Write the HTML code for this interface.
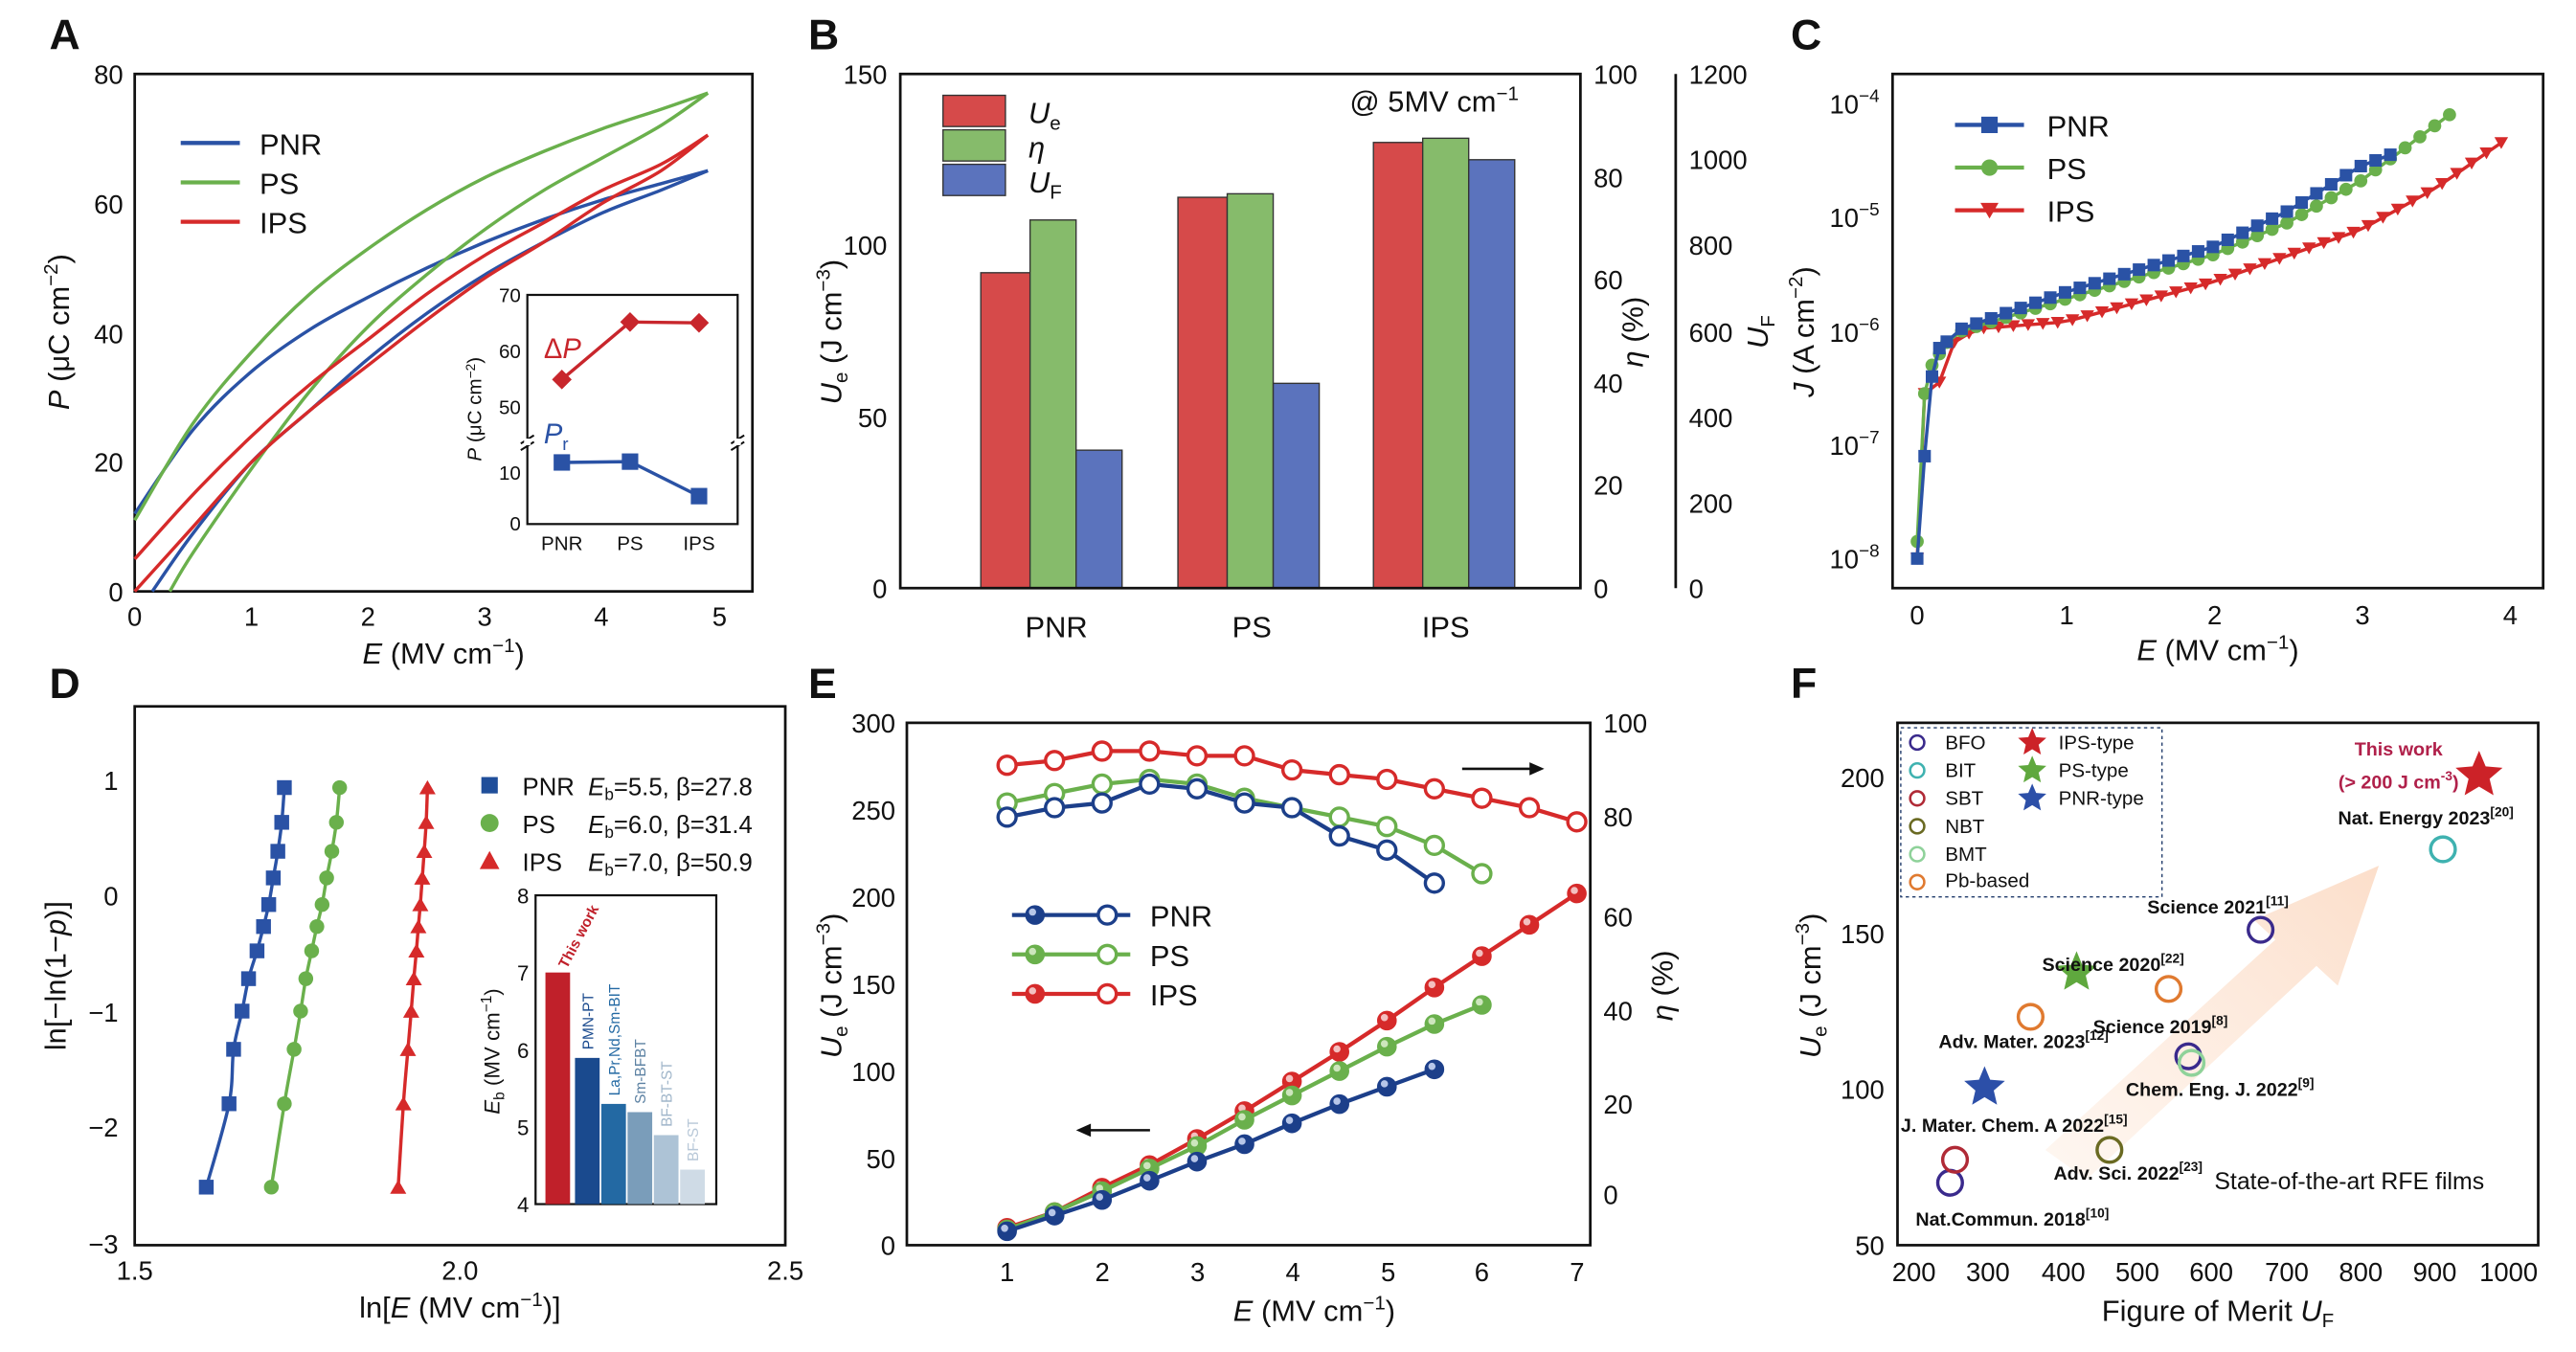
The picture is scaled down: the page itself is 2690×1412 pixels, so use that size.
<!DOCTYPE html>
<html><head><meta charset="utf-8"><style>
html,body{margin:0;padding:0;background:#fff}
svg{display:block}
text{font-family:"Liberation Sans",Arial,sans-serif;fill:#111}
.t{font-size:16px}
.l{font-size:18px}
.p{font-size:26px;font-weight:bold}
.ax{stroke:#111;stroke-width:1.6;fill:none}
</style></head><body>
<svg id="s" width="2690" height="1412" viewBox="0 0 1568 823" xmlns="http://www.w3.org/2000/svg">
<defs>
<linearGradient id="ag" x1="0" y1="1" x2="1" y2="0"><stop offset="0" stop-color="#fde3d0" stop-opacity="0.3"/><stop offset="1" stop-color="#fbd6bd" stop-opacity="0.8"/></linearGradient>
</defs>
<!-- ===== Panel A ===== -->
<text class="p" x="30" y="30">A</text>
<rect class="ax" x="82" y="45" width="376" height="315"/>
<g id="gA"></g>
<g class="t" text-anchor="end">
<text x="75" y="366">0</text><text x="75" y="287">20</text><text x="75" y="209">40</text><text x="75" y="130">60</text><text x="75" y="51">80</text></g>
<g class="t" text-anchor="middle">
<text x="82" y="381">0</text><text x="153" y="381">1</text><text x="224" y="381">2</text><text x="295" y="381">3</text><text x="366" y="381">4</text><text x="438" y="381">5</text></g>
<text class="l" x="270" y="404" text-anchor="middle"><tspan font-style="italic">E</tspan> (MV cm<tspan dy="-7" font-size="12">−1</tspan><tspan dy="7">)</tspan></text>
<text class="l" transform="translate(42,202) rotate(-90)" text-anchor="middle"><tspan font-style="italic">P</tspan> (μC cm<tspan dy="-7" font-size="12">−2</tspan><tspan dy="7">)</tspan></text>
<line x1="110" y1="87" x2="146" y2="87" stroke="#2a52a5" stroke-width="2.5"/>
<line x1="110" y1="111" x2="146" y2="111" stroke="#6ab04c" stroke-width="2.5"/>
<line x1="110" y1="135" x2="146" y2="135" stroke="#d62a2a" stroke-width="2.5"/>
<text class="l" x="158" y="94">PNR</text><text class="l" x="158" y="118">PS</text><text class="l" x="158" y="142">IPS</text>
<!-- inset A -->
<rect x="321" y="179.5" width="128" height="139.5" fill="#fff" stroke="#111" stroke-width="1.3"/>
<path d="M317 270 l8 -5 M317 274 l8 -5 M445 270 l8 -5 M445 274 l8 -5" stroke="#111" stroke-width="1.2"/>
<rect x="319" y="267" width="4" height="4" fill="#fff"/><rect x="447" y="267" width="4" height="4" fill="#fff"/>
<polyline points="342,231 383.5,196 425.5,196.5" fill="none" stroke="#c8262c" stroke-width="2"/>
<path d="M342 225 l6 6 -6 6 -6 -6z M383.5 190 l6 6 -6 6 -6 -6z M425.5 190.5 l6 6 -6 6 -6 -6z" fill="#c8262c"/>
<polyline points="342,281.5 383.5,281 425.5,302" fill="none" stroke="#2a52a5" stroke-width="2"/>
<rect x="337" y="276.5" width="10" height="10" fill="#2a52a5"/><rect x="378.5" y="276" width="10" height="10" fill="#2a52a5"/><rect x="420.5" y="297" width="10" height="10" fill="#2a52a5"/>
<g font-size="12" text-anchor="end"><text x="317" y="184">70</text><text x="317" y="218">60</text><text x="317" y="252">50</text><text x="317" y="292">10</text><text x="317" y="323">0</text></g>
<g font-size="12" text-anchor="middle"><text x="342" y="335">PNR</text><text x="383.5" y="335">PS</text><text x="425.5" y="335">IPS</text></g>
<text font-size="12" transform="translate(293,249) rotate(-90)" text-anchor="middle"><tspan font-style="italic">P</tspan> (μC cm<tspan dy="-4" font-size="8">−2</tspan><tspan dy="4">)</tspan></text>
<text x="331" y="218" font-size="17" style="fill:#c8262c">Δ<tspan font-style="italic">P</tspan></text>
<text x="331" y="270" font-size="17" style="fill:#2a52a5" font-style="italic">P<tspan font-size="11" font-style="normal" dy="4">r</tspan></text>

<!-- ===== Panel B ===== -->
<text class="p" x="492" y="30">B</text>
<g id="gB"></g>
<rect class="ax" x="548" y="45" width="414" height="313"/>
<line class="ax" x1="1020" y1="45" x2="1020" y2="358"/>
<g class="t" text-anchor="end"><text x="540" y="364">0</text><text x="540" y="260">50</text><text x="540" y="155">100</text><text x="540" y="51">150</text></g>
<g class="t"><text x="970" y="364">0</text><text x="970" y="301">20</text><text x="970" y="239">40</text><text x="970" y="176">60</text><text x="970" y="114">80</text><text x="970" y="51">100</text>
<text x="1028" y="364">0</text><text x="1028" y="312">200</text><text x="1028" y="260">400</text><text x="1028" y="208">600</text><text x="1028" y="155">800</text><text x="1028" y="103">1000</text><text x="1028" y="51">1200</text></g>
<g class="l" text-anchor="middle"><text x="643" y="388">PNR</text><text x="762" y="388">PS</text><text x="880" y="388">IPS</text></g>
<text class="l" transform="translate(512,202) rotate(-90)" text-anchor="middle"><tspan font-style="italic">U</tspan><tspan font-size="12" dy="4">e</tspan><tspan dy="-4"> (J cm</tspan><tspan dy="-7" font-size="12">−3</tspan><tspan dy="7">)</tspan></text>
<text class="l" transform="translate(1000,202) rotate(-90)" text-anchor="middle"><tspan font-style="italic">η</tspan> (%)</text>
<text class="l" transform="translate(1076,202) rotate(-90)" text-anchor="middle" font-style="italic">U<tspan font-size="12" dy="4" font-style="normal">F</tspan></text>
<rect x="574" y="58" width="38" height="19" fill="#d64a4a" stroke="#333" stroke-width="0.8"/>
<rect x="574" y="79" width="38" height="19" fill="#86bb6b" stroke="#333" stroke-width="0.8"/>
<rect x="574" y="100" width="38" height="19" fill="#5b73bd" stroke="#333" stroke-width="0.8"/>
<text class="l" x="626" y="75" font-style="italic">U<tspan font-size="12" dy="4" font-style="normal">e</tspan></text>
<text class="l" x="626" y="96" font-style="italic">η</text>
<text class="l" x="626" y="117" font-style="italic">U<tspan font-size="12" dy="4" font-style="normal">F</tspan></text>
<text class="l" x="873" y="68" text-anchor="middle">@ 5MV cm<tspan dy="-7" font-size="12">−1</tspan></text>

<!-- ===== Panel C ===== -->
<text class="p" x="1090" y="30">C</text>
<rect class="ax" x="1152" y="45" width="396" height="313"/>
<g id="gC"></g>
<g class="t" text-anchor="end">
<text x="1144" y="346">10<tspan dy="-7" font-size="11">−8</tspan></text>
<text x="1144" y="277">10<tspan dy="-7" font-size="11">−7</tspan></text>
<text x="1144" y="208">10<tspan dy="-7" font-size="11">−6</tspan></text>
<text x="1144" y="138">10<tspan dy="-7" font-size="11">−5</tspan></text>
<text x="1144" y="69">10<tspan dy="-7" font-size="11">−4</tspan></text></g>
<g class="t" text-anchor="middle"><text x="1167" y="380">0</text><text x="1258" y="380">1</text><text x="1348" y="380">2</text><text x="1438" y="380">3</text><text x="1528" y="380">4</text></g>
<text class="l" x="1350" y="402" text-anchor="middle"><tspan font-style="italic">E</tspan> (MV cm<tspan dy="-7" font-size="12">−1</tspan><tspan dy="7">)</tspan></text>
<text class="l" transform="translate(1104,202) rotate(-90)" text-anchor="middle"><tspan font-style="italic">J</tspan> (A cm<tspan dy="-7" font-size="12">−2</tspan><tspan dy="7">)</tspan></text>
<g id="gCleg"></g>
<text class="l" x="1246" y="83">PNR</text><text class="l" x="1246" y="109">PS</text><text class="l" x="1246" y="135">IPS</text>

<!-- ===== Panel D ===== -->
<text class="p" x="30" y="425">D</text>
<rect class="ax" x="82" y="430" width="396" height="328"/>
<g id="gD"></g>
<g class="t" text-anchor="end"><text x="72" y="481">1</text><text x="72" y="551">0</text><text x="72" y="622">−1</text><text x="72" y="692">−2</text><text x="72" y="763">−3</text></g>
<g class="t" text-anchor="middle"><text x="82" y="779">1.5</text><text x="280" y="779">2.0</text><text x="478" y="779">2.5</text></g>
<text class="l" x="280" y="802" text-anchor="middle">ln[<tspan font-style="italic">E</tspan> (MV cm<tspan dy="-7" font-size="12">−1</tspan><tspan dy="7">)]</tspan></text>
<text class="l" transform="translate(40,594) rotate(-90)" text-anchor="middle">ln[−ln(1−<tspan font-style="italic">p</tspan>)]</text>
<rect x="293" y="473" width="10" height="10" fill="#1f4e9a"/>
<circle cx="298" cy="501" r="5.5" fill="#6ab04c"/>
<path d="M298 518 l6 11 h-12z" fill="#d62a2a"/>
<g font-size="15"><text x="318" y="484">PNR</text><text x="318" y="507">PS</text><text x="318" y="530">IPS</text>
<text x="358" y="484"><tspan font-style="italic">E</tspan><tspan font-size="10" dy="3">b</tspan><tspan dy="-3">=5.5, β=27.8</tspan></text>
<text x="358" y="507"><tspan font-style="italic">E</tspan><tspan font-size="10" dy="3">b</tspan><tspan dy="-3">=6.0, β=31.4</tspan></text>
<text x="358" y="530"><tspan font-style="italic">E</tspan><tspan font-size="10" dy="3">b</tspan><tspan dy="-3">=7.0, β=50.9</tspan></text></g>
<!-- inset D -->
<rect x="326" y="545" width="110" height="188" fill="#fff" stroke="#111" stroke-width="1.3"/>
<rect x="332" y="592" width="15" height="141" fill="#c0202a"/>
<rect x="350" y="644" width="15" height="89" fill="#1a4a8e"/>
<rect x="366" y="672" width="15" height="61" fill="#2369a3"/>
<rect x="382" y="677" width="15" height="56" fill="#7a9dba"/>
<rect x="398" y="691" width="15" height="42" fill="#adc3d6"/>
<rect x="414" y="712" width="15" height="21" fill="#cfdbe6"/>
<g font-size="9">
<text transform="translate(345,590) rotate(-62)" style="fill:#c0202a;font-weight:bold">This work</text>
<text transform="translate(361,639) rotate(-90)" style="fill:#1a4a8e">PMN-PT</text>
<text transform="translate(377,667) rotate(-90)" style="fill:#2369a3">La,Pr,Nd,Sm-BIT</text>
<text transform="translate(393,672) rotate(-90)" style="fill:#5d82a3">Sm-BFBT</text>
<text transform="translate(409,686) rotate(-90)" style="fill:#a0b6ca">BF-BT-ST</text>
<text transform="translate(425,707) rotate(-90)" style="fill:#b8c8d8">BF-ST</text></g>
<g font-size="13" text-anchor="end"><text x="322" y="550">8</text><text x="322" y="597">7</text><text x="322" y="644">6</text><text x="322" y="691">5</text><text x="322" y="738">4</text></g>
<text font-size="13" transform="translate(304,640) rotate(-90)" text-anchor="middle"><tspan font-style="italic">E</tspan><tspan font-size="9" dy="3">b</tspan><tspan dy="-3"> (MV cm</tspan><tspan dy="-5" font-size="9">−1</tspan><tspan dy="5">)</tspan></text>

<!-- ===== Panel E ===== -->
<text class="p" x="492" y="425">E</text>
<rect class="ax" x="552" y="440" width="416" height="318"/>
<g id="gE"></g>
<g class="t" text-anchor="end"><text x="545" y="764">0</text><text x="545" y="711">50</text><text x="545" y="658">100</text><text x="545" y="605">150</text><text x="545" y="552">200</text><text x="545" y="499">250</text><text x="545" y="446">300</text></g>
<g class="t"><text x="976" y="733">0</text><text x="976" y="678">20</text><text x="976" y="621">40</text><text x="976" y="564">60</text><text x="976" y="503">80</text><text x="976" y="446">100</text></g>
<g class="t" text-anchor="middle"><text x="613" y="780">1</text><text x="671" y="780">2</text><text x="729" y="780">3</text><text x="787" y="780">4</text><text x="845" y="780">5</text><text x="902" y="780">6</text><text x="960" y="780">7</text></g>
<text class="l" x="800" y="804" text-anchor="middle"><tspan font-style="italic">E</tspan> (MV cm<tspan dy="-7" font-size="12">−1</tspan><tspan dy="7">)</tspan></text>
<text class="l" transform="translate(512,600) rotate(-90)" text-anchor="middle"><tspan font-style="italic">U</tspan><tspan font-size="12" dy="4">e</tspan><tspan dy="-4"> (J cm</tspan><tspan dy="-7" font-size="12">−3</tspan><tspan dy="7">)</tspan></text>
<text class="l" transform="translate(1018,600) rotate(-90)" text-anchor="middle"><tspan font-style="italic">η</tspan> (%)</text>
<g id="gEleg"></g>
<text class="l" x="700" y="564">PNR</text><text class="l" x="700" y="588">PS</text><text class="l" x="700" y="612">IPS</text>
<line x1="890" y1="468" x2="935" y2="468" stroke="#111" stroke-width="1.5"/><path d="M940 468 l-9 -4 v8z" fill="#111"/>
<line x1="660" y1="688" x2="700" y2="688" stroke="#111" stroke-width="1.5"/><path d="M655 688 l9 -4 v8z" fill="#111"/>

<!-- ===== Panel F ===== -->
<text class="p" x="1090" y="425">F</text>
<rect class="ax" x="1155" y="440" width="390" height="318"/>
<path d="M1245 700 L1385 572 L1372 560 L1448 527 L1423 600 L1410 588 L1270 718 Z" fill="url(#ag)"/>
<g id="gF"></g>
<g class="t" text-anchor="end"><text x="1147" y="764">50</text><text x="1147" y="669">100</text><text x="1147" y="574">150</text><text x="1147" y="479">200</text></g>
<g class="t" text-anchor="middle"><text x="1165" y="780">200</text><text x="1210" y="780">300</text><text x="1256" y="780">400</text><text x="1301" y="780">500</text><text x="1346" y="780">600</text><text x="1392" y="780">700</text><text x="1437" y="780">800</text><text x="1482" y="780">900</text><text x="1527" y="780">1000</text></g>
<text class="l" x="1350" y="804" text-anchor="middle">Figure of Merit <tspan font-style="italic">U</tspan><tspan font-size="12" dy="4">F</tspan></text>
<text class="l" transform="translate(1108,600) rotate(-90)" text-anchor="middle"><tspan font-style="italic">U</tspan><tspan font-size="12" dy="4">e</tspan><tspan dy="-4"> (J cm</tspan><tspan dy="-7" font-size="12">−3</tspan><tspan dy="7">)</tspan></text>
<rect x="1157" y="443" width="159" height="103" fill="none" stroke="#1f3a6a" stroke-width="0.8" stroke-dasharray="2,2"/>
<g font-size="12"><text x="1184" y="456">BFO</text><text x="1184" y="473">BIT</text><text x="1184" y="490">SBT</text><text x="1184" y="507">NBT</text><text x="1184" y="524">BMT</text><text x="1184" y="540">Pb-based</text>
<text x="1253" y="456">IPS-type</text><text x="1253" y="473">PS-type</text><text x="1253" y="490">PNR-type</text></g>
<g font-size="11.5" font-weight="bold">
<text x="1530" y="502" text-anchor="end">Nat. Energy 2023<tspan font-size="8" dy="-5">[20]</tspan></text>
<text x="1307" y="556">Science 2021<tspan font-size="8" dy="-5">[11]</tspan></text>
<text x="1243" y="591">Science 2020<tspan font-size="8" dy="-5">[22]</tspan></text>
<text x="1274" y="629">Science 2019<tspan font-size="8" dy="-5">[8]</tspan></text>
<text x="1180" y="638">Adv. Mater. 2023<tspan font-size="8" dy="-5">[12]</tspan></text>
<text x="1294" y="667">Chem. Eng. J. 2022<tspan font-size="8" dy="-5">[9]</tspan></text>
<text x="1157" y="689">J. Mater. Chem. A 2022<tspan font-size="8" dy="-5">[15]</tspan></text>
<text x="1250" y="718">Adv. Sci. 2022<tspan font-size="8" dy="-5">[23]</tspan></text>
<text x="1166" y="746">Nat.Commun. 2018<tspan font-size="8" dy="-5">[10]</tspan></text>
<text x="1460" y="460" text-anchor="middle" style="fill:#b0204a">This work</text>
<text x="1460" y="480" text-anchor="middle" style="fill:#b0204a">(&gt; 200 J cm<tspan font-size="8" dy="-5">-3</tspan><tspan dy="5">)</tspan></text></g>
<text x="1430" y="724" text-anchor="middle" font-size="14.5">State-of-the-art RFE films</text>
</svg>
<script>
const NS="http://www.w3.org/2000/svg";
function el(g,tag,a){const e=document.createElementNS(NS,tag);for(const k in a)e.setAttribute(k,a[k]);document.getElementById(g).appendChild(e);return e;}
function line(g,pts,c,w,extra){el(g,"polyline",Object.assign({points:pts.map(p=>p[0].toFixed(1)+","+p[1].toFixed(1)).join(" "),fill:"none",stroke:c,"stroke-width":w||2},extra||{}));}
function smooth(g,pts,c,w){let d="M"+pts[0][0]+" "+pts[0][1];for(let i=0;i<pts.length-1;i++){const p0=pts[Math.max(i-1,0)],p1=pts[i],p2=pts[i+1],p3=pts[Math.min(i+2,pts.length-1)];d+=` C${p1[0]+(p2[0]-p0[0])/6} ${p1[1]+(p2[1]-p0[1])/6} ${p2[0]-(p3[0]-p1[0])/6} ${p2[1]-(p3[1]-p1[1])/6} ${p2[0]} ${p2[1]}`;}el(g,"path",{d:d,fill:"none",stroke:c,"stroke-width":w||2});}
const B="#2a52a5",G="#6ab04c",R="#d62a2a";
// Panel A
const ax=e=>82+e*71.2, ay=p=>360-p*3.94;
const A={
 b:[[[0,12],[.5,25],[1,34],[1.5,40.5],[2,45.5],[2.5,50],[3,54],[3.5,57.5],[4,60.5],[4.5,63],[4.9,65]],[[0.15,0],[.5,9],[1,20],[1.5,28],[2,36],[2.5,43],[3,49],[3.5,54],[4,58.5],[4.5,62],[4.9,65]]],
 g:[[[0,11],[.5,26],[1,37],[1.5,46],[2,53],[2.5,59],[3,64],[3.5,68],[4,71.5],[4.5,74.5],[4.9,77]],[[0.3,0],[.5,6],[1,19],[1.5,31],[2,41],[2.5,49],[3,56],[3.5,62],[4,67],[4.5,72],[4.9,77]]],
 r:[[[0,5],[.5,15],[1,24],[1.5,32],[2,39],[2.5,46],[3,52],[3.5,57],[4,62],[4.5,66],[4.9,70.5]],[[0,0],[.5,10],[1,20],[1.5,28],[2,35],[2.5,42],[3,48.5],[3.5,54],[4,60],[4.5,65],[4.9,70.5]]]};
[["b",B],["g",G],["r",R]].forEach(([k,c])=>A[k].forEach(s=>smooth("gA",s.map(p=>[ax(p[0]),ay(p[1])]),c,2)));
// Panel B bars
const by=v=>358-v*2.087, ey=v=>358-v*3.13, uy=v=>358-v*0.2608;
[[597,92,71.6,322],[717,114,76.7,478],[836,130,87.5,1000]].forEach(([x,u,n,f])=>{
 el("gB","rect",{x:x,y:by(u),width:30,height:358-by(u),fill:"#d64a4a",stroke:"#333","stroke-width":.8});
 el("gB","rect",{x:x+30,y:ey(n),width:28,height:358-ey(n),fill:"#86bb6b",stroke:"#333","stroke-width":.8});
 el("gB","rect",{x:x+58,y:uy(f),width:28,height:358-uy(f),fill:"#5b73bd",stroke:"#333","stroke-width":.8});});
// Panel C
const cx=e=>1167+e*90, cy=l=>340-(l+8)*69.25;
function interp(keys,xs){return xs.map(x=>{for(let i=0;i<keys.length-1;i++){if(x<=keys[i+1][0]){const t=(x-keys[i][0])/(keys[i+1][0]-keys[i][0]);return [x,keys[i][1]+t*(keys[i+1][1]-keys[i][1])];}}return keys[keys.length-1];});}
function range(a,b,s){const r=[];for(let x=a;x<=b+1e-9;x+=s)r.push(+x.toFixed(3));return r;}
const cP=interp([[0,-8],[0.05,-7.1],[0.1,-6.4],[0.15,-6.15],[0.3,-5.98],[1,-5.66],[2,-5.26],[2.5,-4.95],[3,-4.55],[3.2,-4.45]],[0,0.05,0.1,0.15,0.2,...range(0.3,3.2,0.1)]);
const cS=interp([[0,-7.85],[0.05,-6.55],[0.1,-6.3],[0.2,-6.1],[0.3,-6.0],[1,-5.72],[2,-5.33],[2.5,-5.05],[3,-4.68],[3.65,-4.05]],[0,0.05,0.1,0.15,0.2,...range(0.3,3.65,0.1)]);
const cI=interp([[0,-8],[0.05,-6.55],[0.15,-6.45],[0.25,-6.1],[0.4,-5.98],[1,-5.92],[2,-5.57],[3,-5.11],[3.5,-4.75],[4,-4.3]],[0,0.05,0.15,0.25,...range(0.35,4,0.1)]);
function mk(g,x,y,type,c,s){s=s||4.5;if(type=="s")el(g,"rect",{x:x-s,y:y-s,width:2*s,height:2*s,fill:c});else if(type=="c")el(g,"circle",{cx:x,cy:y,r:s,fill:c});else if(type=="u")el(g,"path",{d:`M${x} ${y-s} l${s*1.1} ${s*1.9} h${-s*2.2}z`,fill:c});else el(g,"path",{d:`M${x} ${y+s} l${s*1.1} ${-s*1.9} h${-s*2.2}z`,fill:c});}
[[cI,R,"t"],[cS,G,"c"],[cP,B,"s"]].forEach(([d,c,t])=>{const pts=d.map(p=>[cx(p[0]),cy(p[1])]);line("gC",pts,c,2);pts.forEach(p=>mk("gC",p[0],p[1],t,c,t=="c"?4:3.8));});
[[76,B,"s"],[102,G,"c"],[128,R,"t"]].forEach(([y,c,t])=>{line("gCleg",[[1190,y],[1232,y]],c,2.5);mk("gCleg",1211,y,t,c,5);});
// Panel D
const dx=v=>82+(v-1.5)*396, dy=v=>545-v*70.5;
const ys=[-2.52,-1.8,-1.33,-1.0,-0.72,-0.48,-0.27,-0.08,0.15,0.38,0.63,0.93];
const DX={b:[1.61,1.645,1.652,1.665,1.675,1.688,1.698,1.706,1.713,1.72,1.726,1.73],g:[1.71,1.73,1.745,1.755,1.763,1.772,1.78,1.788,1.795,1.803,1.81,1.815],r:[1.905,1.913,1.92,1.925,1.929,1.933,1.936,1.939,1.942,1.945,1.948,1.95]};
[["b",B,"s"],["g",G,"c"],["r",R,"u"]].forEach(([k,c,t])=>{const pts=DX[k].map((x,i)=>[dx(x),dy(ys[i])]);smooth("gD",pts,c,2);pts.forEach(p=>mk("gD",p[0],p[1],t,c,4.5));});
// Panel E
const exx=v=>613+(v-1)*57.8, eu=v=>758-v*1.06, en=v=>727-v*2.87;
const EU={b:[8,17,26,37,48,58,70,81,91,101],g:[9,19,31,44,57,72,86,100,114,127,138],r:[10,19,33,46,61,77,94,111,129,148,166,184,202]};
const EN={b:[80,82,83,87,86,83,82,76,73,66],g:[83,85,87,88,87,84,82,80,78,74,68],r:[91,92,94,94,93,93,90,89,88,86,84,82,79]};
const EC={b:["#1c3f8a","#b7c6e8"],g:[G,"#cde6bd"],r:[R,"#f3c0c0"]};
function ball(g,x,y,c,l){el(g,"circle",{cx:x,cy:y,r:5.5,fill:c,stroke:c,"stroke-width":1});el(g,"circle",{cx:x-1.5,cy:y-1.8,r:2.2,fill:l});}
function ring(g,x,y,c){el(g,"circle",{cx:x,cy:y,r:5.5,fill:"#fff",stroke:c,"stroke-width":2});}
["r","g","b"].forEach(k=>{const c=EC[k][0];
 const pu=EU[k].map((v,i)=>[exx(1+i*0.5),eu(v)]);line("gE",pu,c,2.5);pu.forEach(p=>ball("gE",p[0],p[1],c,EC[k][1]));
 const pn=EN[k].map((v,i)=>[exx(1+i*0.5),en(v)]);line("gE",pn,c,2.5);pn.forEach(p=>ring("gE",p[0],p[1],c));});
[[557,"b"],[581,"g"],[605,"r"]].forEach(([y,k])=>{const c=EC[k][0];line("gEleg",[[616,y],[688,y]],c,2.5);ball("gEleg",630,y,c,EC[k][1]);ring("gEleg",674,y,c);});
// Panel F
function star(g,x,y,r,c){let d="";for(let i=0;i<10;i++){const a=-Math.PI/2+i*Math.PI/5,rr=i%2?r*0.45:r;d+=(i?"L":"M")+(x+rr*Math.cos(a)).toFixed(1)+" "+(y+rr*Math.sin(a)).toFixed(1);}el(g,"path",{d:d+"Z",fill:c});}
const fc={BFO:"#3a2a8c",BIT:"#3fb2b0",SBT:"#b02a36",NBT:"#6a6a22",BMT:"#8fd29a",Pb:"#e07a30"};
[[1187,720,"BFO"],[1190,706,"SBT"],[1284,700,"NBT"],[1236,619,"Pb"],[1320,602,"Pb"],[1332,643,"BFO"],[1334,647,"BMT"],[1376,566,"BFO"],[1487,517,"BIT"]].forEach(([x,y,k])=>el("gF","circle",{cx:x,cy:y,r:7.5,fill:"none",stroke:fc[k],"stroke-width":2}));
star("gF",1208,662,13,"#2c4fa8");star("gF",1264,592,13,"#5fa83e");star("gF",1509,472,15,"#cc2228");
["BFO","BIT","SBT","NBT","BMT","Pb"].forEach((k,i)=>el("gF","circle",{cx:1167,cy:452+i*17,r:4.3,fill:"none",stroke:fc[k],"stroke-width":1.5}));
star("gF",1237,452,9,"#cc2228");star("gF",1237,469,9,"#5fa83e");star("gF",1237,486,9,"#2c4fa8");
</script>
</body></html>
